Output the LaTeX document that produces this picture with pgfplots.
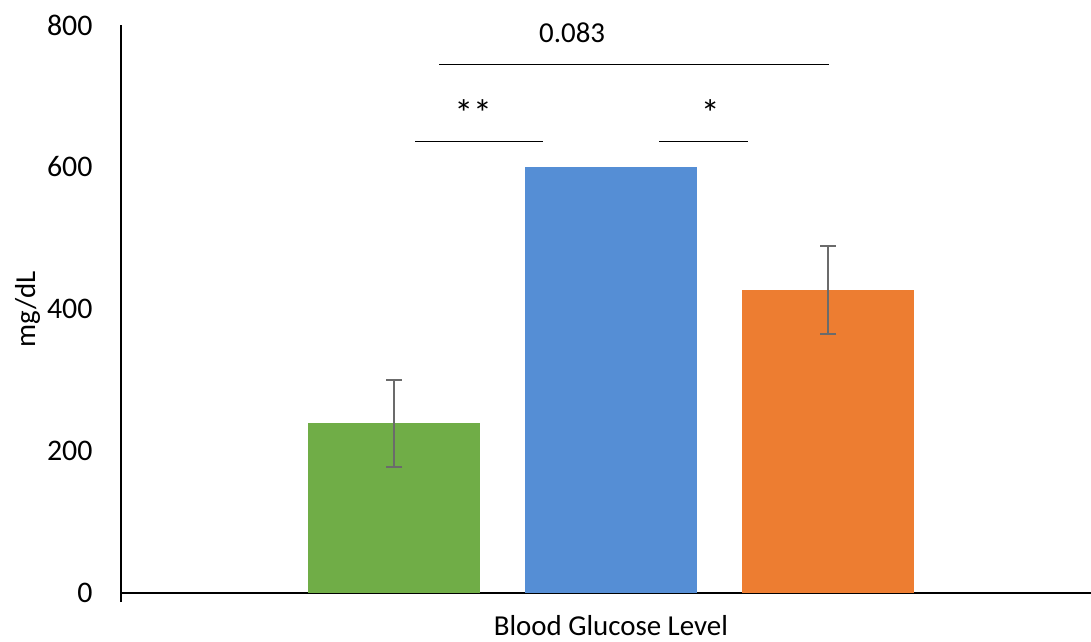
\documentclass[border=0pt]{standalone}
\usepackage{pgfplots}
\pgfplotsset{compat=1.18}
\usepackage{fontspec}
\setmainfont{Carlito}
\definecolor{cgreen}{HTML}{70AD47}
\definecolor{cblue}{HTML}{558ED5}
\definecolor{corange}{HTML}{ED7D31}
\definecolor{cerr}{HTML}{6B6B6B}
\begin{document}
\begin{tikzpicture}
\begin{axis}[
  at={(0,0)}, anchor=south west,
  scale only axis, width=970bp, height=568bp,
  xmin=-0.258, xmax=4.210, ymin=0, ymax=800,
  axis x line=bottom, axis y line=left,
  axis line style={black, line width=1.3bp, -},
  ytick={0,200,400,600,800},
  ytick style={draw=none},
  xtick={-0.258}, xticklabels={},
  xtick style={black, line width=1.3bp},
  tick align=outside, major tick length=9bp,
  font=\fontsize{29}{34}\selectfont,
  /pgf/number format/assume math mode=true,
  yticklabel style={font=\fontsize{30}{36}\selectfont, xshift=-16bp},
  ylabel={mg/dL},
  ylabel style={font=\fontsize{29}{34}\selectfont},
  xlabel={Blood Glucose Level},
  xlabel style={font=\fontsize{29}{34}\selectfont, at={(rel axis cs:0.505,0)}, anchor=base, yshift=-42bp},
  ybar, bar width=0.793, bar shift=0pt,
  clip=false,
]
\addplot[fill=cgreen, draw=none,
  error bars/.cd, y dir=both, y explicit, error mark=|,
  error bar style={cerr, line width=2bp},
  error mark options={cerr, line width=2bp, mark size=8bp}]
  coordinates {(1,239) +- (0,61)};
\addplot[fill=cblue, draw=none] coordinates {(2,600)};
\addplot[fill=corange, draw=none,
  error bars/.cd, y dir=both, y explicit, error mark=|,
  error bar style={cerr, line width=2bp},
  error mark options={cerr, line width=2bp, mark size=8bp}]
  coordinates {(3,427) +- (0,62)};
% significance brackets
\addplot[sharp plot, black, line width=1.2bp] coordinates {(1.097,636) (1.687,636)};
\addplot[sharp plot, black, line width=1.2bp] coordinates {(2.221,636) (2.631,636)};
\addplot[sharp plot, black, line width=1.2bp] coordinates {(1.207,744) (3.005,744)};
\node[font=\fontsize{38}{44}\selectfont] at (axis cs:1.364,676) {**};
\node[font=\fontsize{38}{44}\selectfont] at (axis cs:2.456,676) {*};
\node[font=\fontsize{29}{34}\selectfont] at (axis cs:1.820,789) {0.083};
\end{axis}
\pgfresetboundingbox
\path (-121bp,-49bp) rectangle (970bp,593bp);
\end{tikzpicture}
\end{document}
